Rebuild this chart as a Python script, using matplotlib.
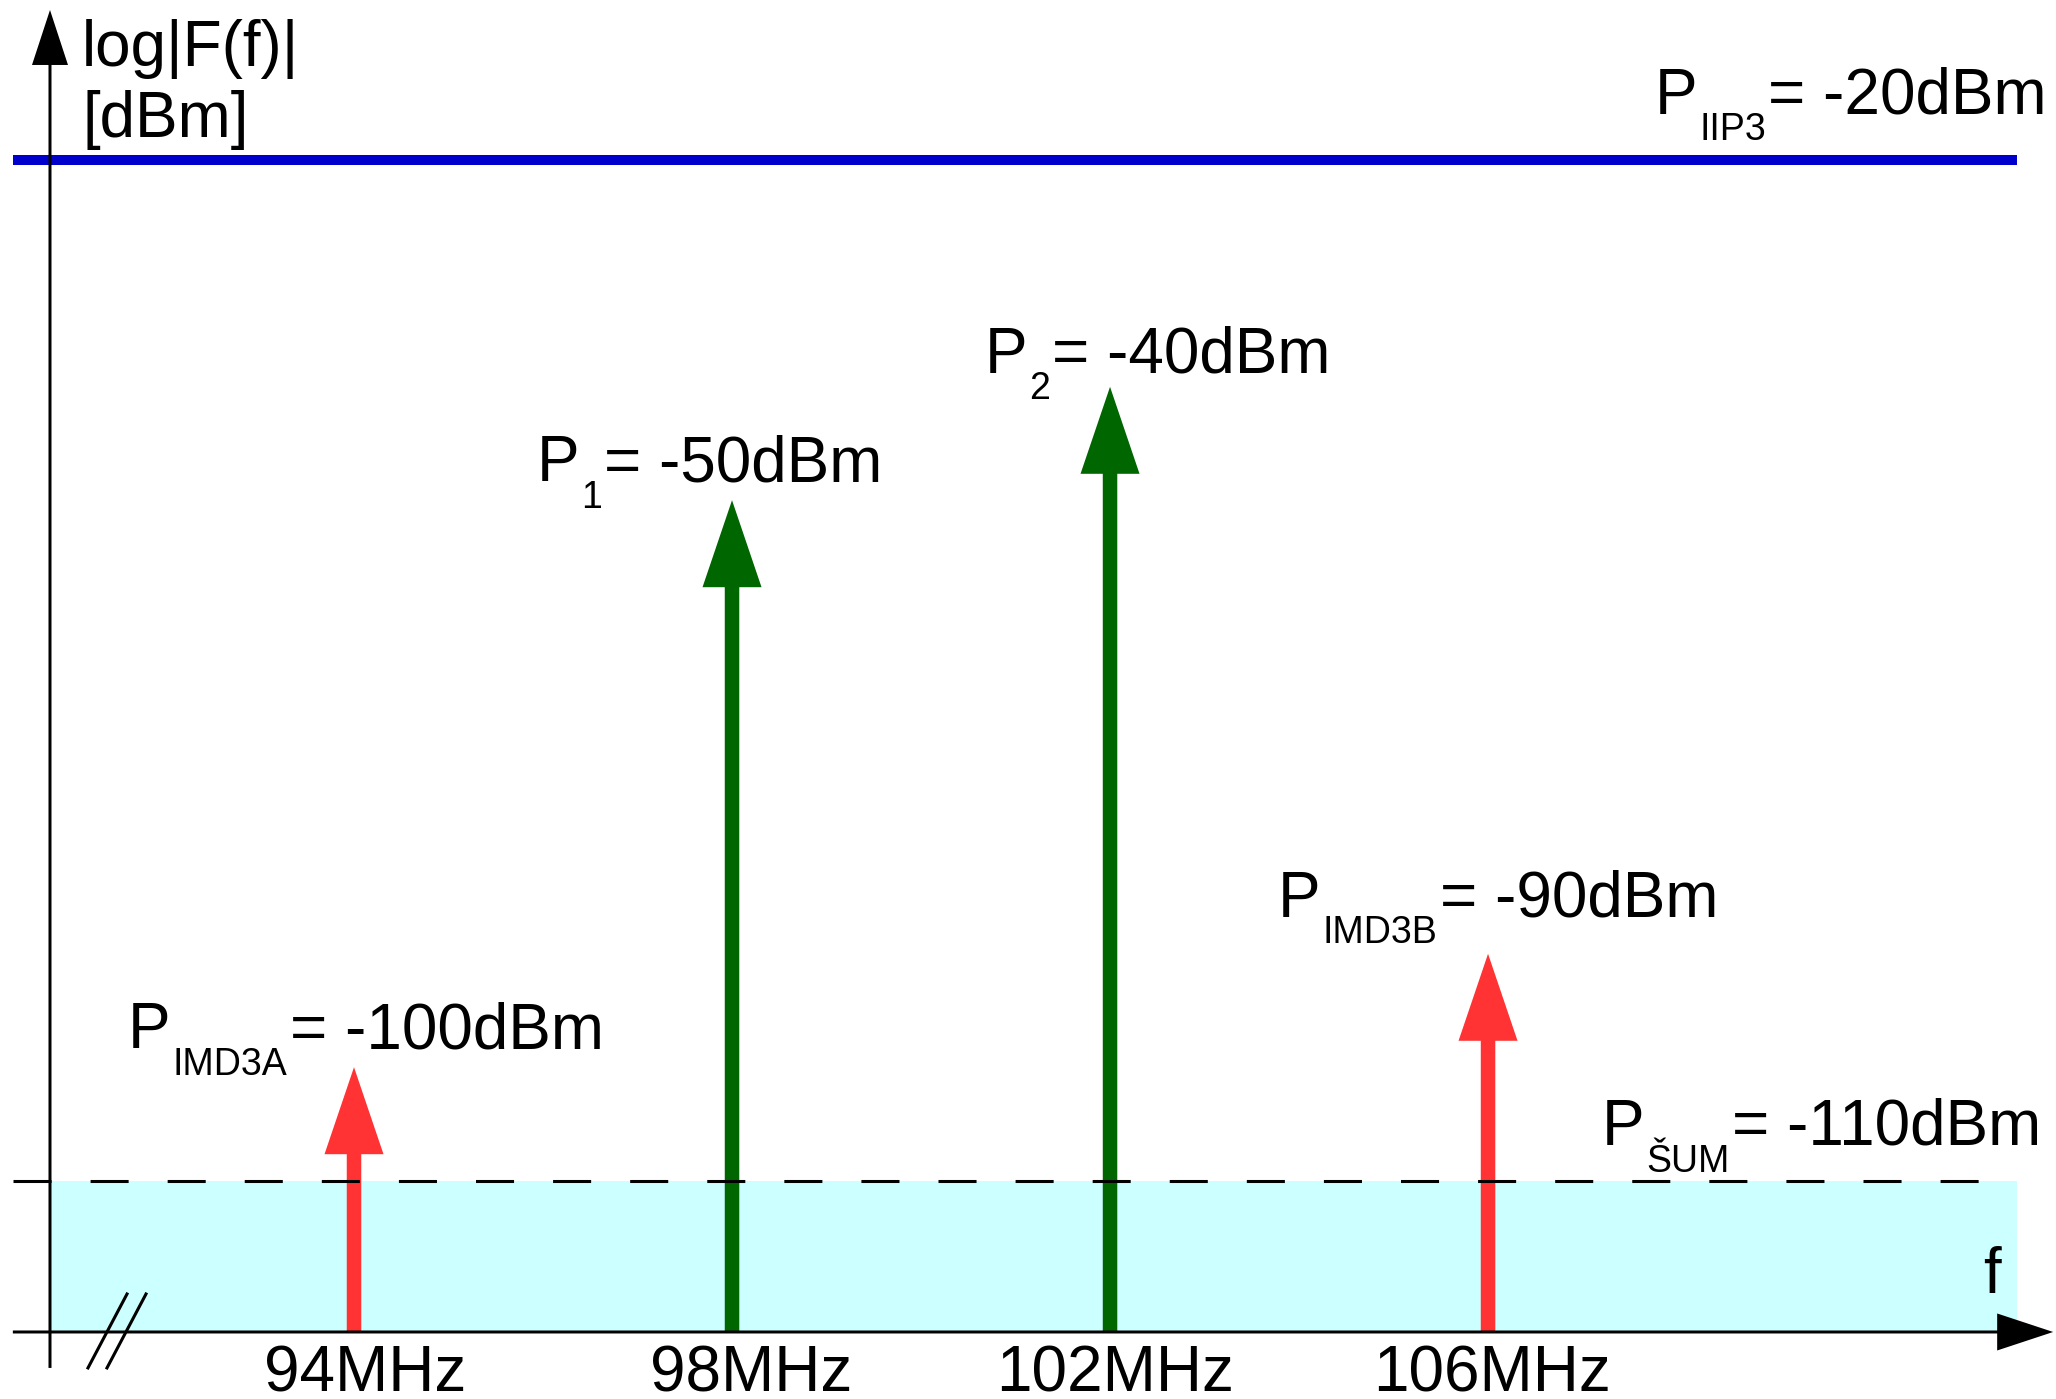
import matplotlib.pyplot as plt

plt.rcParams['font.family'] = ['Liberation Sans', 'DejaVu Sans']
plt.rcParams['lines.scale_dashes'] = False

# two input tones and their third-order intermod products
freqs = [94, 98, 102, 106]
levels = [-100, -50, -40, -90]
subscripts = ['IMD3A', '1', '2', 'IMD3B']
tone_colors = ['#ff3333', '#006600', '#006600', '#ff3333']
freq_labels = ['94MHz', '98MHz', '102MHz', '106MHz']

p_iip3 = -20
p_noise = -110

# label placement relative to each arrow tip (MHz, dB)
label_dx = [-2.39, -2.07, -1.33, -2.22]
label_dy = [1.69, 1.69, 1.22, 3.25]
tick_dx = [0.12, 0.2, 0.05, 0.04]

F_MAIN = 46
F_SUB = 27

fig = plt.figure(figsize=(20.56, 13.99), dpi=100)
ax = fig.add_axes([0, 0, 1, 1])
ax.set_xlim(90.254, 112.01)
ax.set_ylim(-129.26, -5.89)
ax.axis('off')

# frame geometry in data units
x_left, x_axis, x_right, x_tip = 90.39, 90.783, 111.6, 111.98
y_bottom, y_floor, y_top = -126.52, -123.35, -6.77
px_x = 1 / 94.5   # MHz per pixel
px_y = 1 / 11.34  # dB per pixel

# noise floor band
ax.fill_between([x_axis, x_right], y_floor, p_noise, color='#ccffff', lw=0, zorder=0)

# coordinate axes with arrow heads
ax.arrow(x_left, y_floor, x_tip - x_left, 0, width=3 * px_y, head_width=37 * px_y,
         head_length=56 * px_x, length_includes_head=True, color='black', lw=0, zorder=4)
ax.arrow(x_axis, y_bottom, 0, y_top - y_bottom, width=3 * px_x, head_width=36 * px_x,
         head_length=55 * px_y, length_includes_head=True, color='black', lw=0, zorder=4)

# axis break mark
for x0 in [91.185, 91.386]:
    ax.plot([x0, x0 + 0.413], [y_bottom, -120.0], color='black', lw=2.2, zorder=4)

# IIP3 level
ax.plot([x_left, x_right], [p_iip3, p_iip3], color='#0000cc', lw=7.2,
        solid_capstyle='butt', zorder=2)

# tone arrows
for f, lvl, c in zip(freqs, levels, tone_colors):
    ax.arrow(f, y_floor, 0, lvl - y_floor, width=14.5 * px_x, head_width=59 * px_x,
             head_length=87 * px_y, length_includes_head=True, color=c, lw=0, zorder=3)

# noise level
ax.plot([x_left, x_right], [p_noise, p_noise], color='black', lw=2.2,
        linestyle=(0, (27.4, 28.1)), dash_capstyle='butt', zorder=5)


def power_label(x, y, sub, value):
    t1 = ax.text(x, y, 'P', fontsize=F_MAIN, ha='left', va='baseline')
    t2 = ax.annotate(sub, xy=(1, 0), xycoords=t1, xytext=(1.5, -15.5),
                     textcoords='offset points', fontsize=F_SUB, ha='left', va='bottom')
    ax.annotate(f'= {value}dBm', xy=(1, 0), xycoords=(t2, t1), xytext=(1.5, 0),
                textcoords='offset points', fontsize=F_MAIN, ha='left', va='bottom')


for f, lvl, sub, dx, dy in zip(freqs, levels, subscripts, label_dx, label_dy):
    power_label(f + dx, lvl + dy, sub, lvl)

power_label(107.76, p_iip3 + 4.06, 'IIP3', p_iip3)
power_label(107.20, p_noise + 3.14, 'ŠUM', p_noise)

# frequency labels
for f, lab, dx in zip(freqs, freq_labels, tick_dx):
    ax.text(f + dx, -128.64, lab, fontsize=F_MAIN, ha='center', va='baseline')

# axis titles
ax.text(91.12, -11.71, 'log|F(f)|', fontsize=F_MAIN, ha='left', va='baseline')
ax.text(91.13, -17.97, '[dBm]', fontsize=F_MAIN, ha='left', va='baseline')
ax.text(111.24, -119.9, 'f', fontsize=F_MAIN, ha='left', va='baseline')

fig.savefig('out.png', dpi=100)
